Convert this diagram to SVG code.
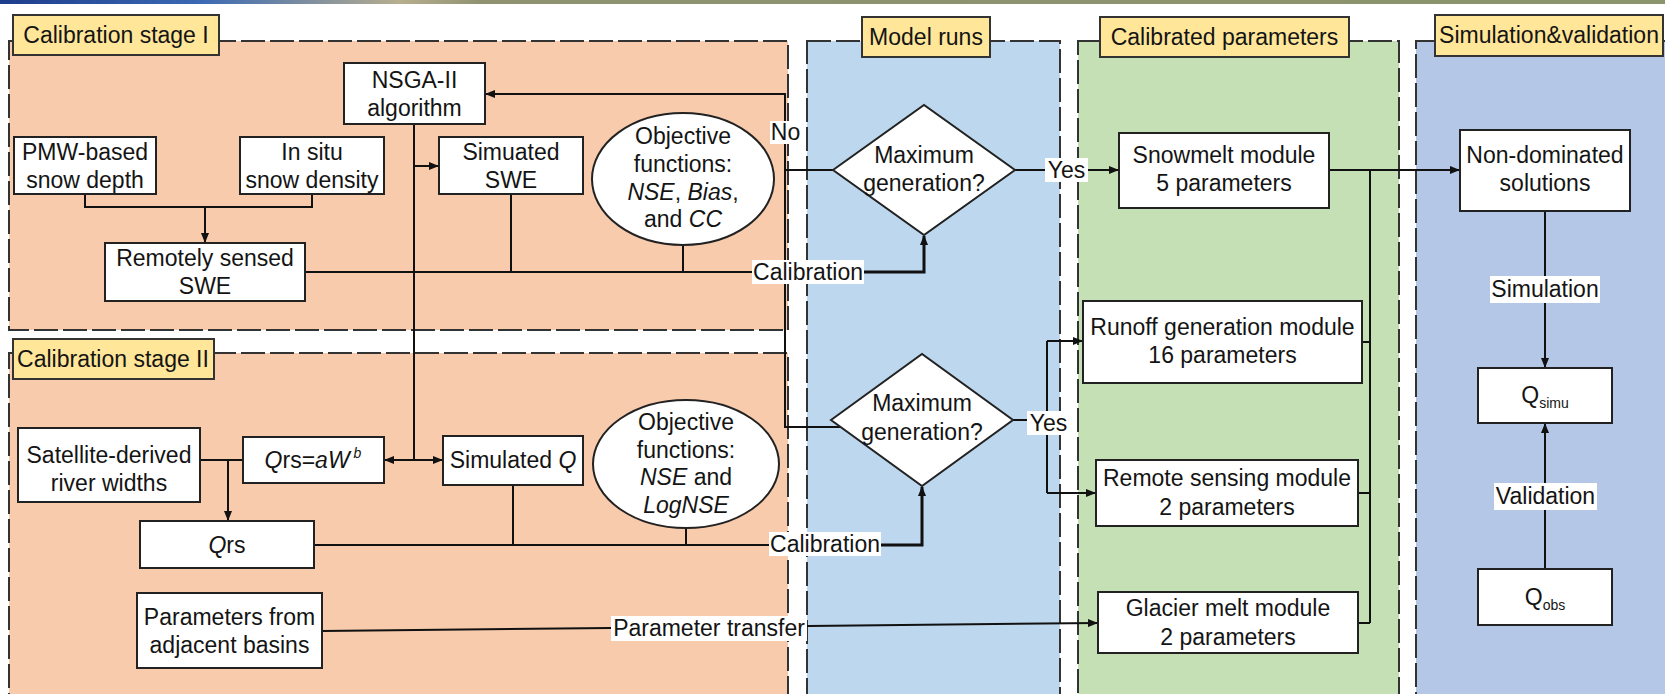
<svg xmlns="http://www.w3.org/2000/svg" width="1665" height="694" viewBox="0 0 1665 694">
<style>
text{font-family:"Liberation Sans",Arial,sans-serif;font-size:23px;fill:#141414;text-anchor:middle}
.it{font-style:italic}
.sub{font-size:14px}
.panel{stroke:#333;stroke-width:2;stroke-dasharray:24 5}
.lab{fill:#FFE699;stroke:#333;stroke-width:2}
.box{fill:#fff;stroke:#222;stroke-width:2}
.ln{fill:none;stroke:#111;stroke-width:2}
.thick{fill:none;stroke:#111;stroke-width:3}
.bg{fill:#fff}
</style>
<defs>
<linearGradient id="band" x1="0" y1="0" x2="1" y2="0">
<stop offset="0" stop-color="#1d3c8c"/>
<stop offset="0.12" stop-color="#3b69b4"/>
<stop offset="0.24" stop-color="#b7ae8e"/>
<stop offset="0.29" stop-color="#8e9270"/>
<stop offset="1" stop-color="#8b946c"/>
</linearGradient>
<marker id="ar" markerUnits="userSpaceOnUse" markerWidth="10" markerHeight="8" refX="9" refY="4" orient="auto">
<path d="M0,0 L10,4 L0,8 z" fill="#111"/>
</marker>
</defs>
<rect x="0" y="0" width="1665" height="694" fill="#fff"/>
<rect x="0" y="0" width="1665" height="4" fill="url(#band)"/>

<g id="panels">
<rect class="panel" x="9" y="41" width="779" height="289" fill="#F8CBAD"/>
<rect class="panel" x="9" y="353" width="779" height="360" fill="#F8CBAD"/>
<rect class="panel" x="807" y="41" width="253" height="672" fill="#BDD7EE"/>
<rect class="panel" x="1078" y="41" width="321" height="672" fill="#C5E0B4"/>
<rect class="panel" x="1416" y="41" width="260" height="672" fill="#B4C7E7"/>
</g>
<g id="panel-labels">
<g id="lab-stage1"><rect class="lab" x="13" y="15" width="206" height="40"/><text x="116" y="43">Calibration stage I</text></g>
<g id="lab-stage2"><rect class="lab" x="13" y="339" width="201" height="40"/><text x="113" y="367">Calibration stage II</text></g>
<g id="lab-model"><rect class="lab" x="862" y="17" width="128" height="40"/><text x="926" y="45">Model runs</text></g>
<g id="lab-calib"><rect class="lab" x="1100" y="17" width="249" height="40"/><text x="1224.5" y="45">Calibrated parameters</text></g>
<g id="lab-sim"><rect class="lab" x="1435" y="15" width="228" height="41"/><text x="1549" y="43">Simulation&amp;validation</text></g>
</g>

<g id="connectors">
<path class="ln" d="M85,194 V207 H312 V194"/>
<path class="ln" d="M205,207 V242" marker-end="url(#ar)"/>
<path class="ln" d="M414,124 V460"/>
<path class="ln" d="M414,166 H438" marker-end="url(#ar)"/>
<path class="ln" d="M414,460 H385" marker-end="url(#ar)"/>
<path class="ln" d="M414,460 H442" marker-end="url(#ar)"/>
<path class="ln" d="M305,272 H760"/>
<path class="ln" d="M511,194 V272"/>
<path class="ln" d="M683,245 V272"/>
<path class="thick" d="M860,272 H924 V236" marker-end="url(#ar)"/>
<path class="ln" d="M833,170 H785 V94 H486" marker-end="url(#ar)"/>
<path class="ln" d="M785,94 V427 H840"/>
<path class="ln" d="M1015,170 H1118" marker-end="url(#ar)"/>
<path class="ln" d="M1329,170 H1459" marker-end="url(#ar)"/>
<path class="ln" d="M1370,170 V623"/>
<path class="ln" d="M1362,342 H1370"/>
<path class="ln" d="M1358,493 H1370"/>
<path class="ln" d="M1358,623 H1370"/>
<path class="ln" d="M1013,420 H1047"/>
<path class="ln" d="M1047,341 V493"/>
<path class="ln" d="M1047,341 H1082" marker-end="url(#ar)"/>
<path class="ln" d="M1047,493 H1095" marker-end="url(#ar)"/>
<path class="ln" d="M314,545 H775"/>
<path class="ln" d="M513,485 V545"/>
<path class="ln" d="M686,528 V545"/>
<path class="thick" d="M875,545 H922 V487" marker-end="url(#ar)"/>
<path class="ln" d="M200,460 H243"/>
<path class="ln" d="M228,460 V520" marker-end="url(#ar)"/>
<path class="ln" d="M322,631 L1097,623" marker-end="url(#ar)"/>
<path class="ln" d="M1545,211 V367" marker-end="url(#ar)"/>
<path class="ln" d="M1545,569 V424" marker-end="url(#ar)"/>
</g>

<g id="n-nsga"><rect class="box" x="344" y="63" width="141" height="61"/><text x="414.5" y="87.5">NSGA-II</text><text x="414.5" y="115.5">algorithm</text></g>
<g id="n-pmw"><rect class="box" x="14" y="137" width="142" height="57"/><text x="85" y="159.5">PMW-based</text><text x="85" y="187.5">snow depth</text></g>
<g id="n-insitu"><rect class="box" x="240" y="137" width="144" height="57"/><text x="312" y="159.5">In situ</text><text x="312" y="187.5">snow density</text></g>
<g id="n-simswe"><rect class="box" x="439" y="137" width="144" height="57"/><text x="511" y="159.5">Simuated</text><text x="511" y="187.5">SWE</text></g>
<g id="n-rsswe"><rect class="box" x="105" y="243" width="200" height="58"/><text x="205" y="266">Remotely sensed</text><text x="205" y="294">SWE</text></g>
<g id="n-obj1"><ellipse class="box" cx="683" cy="179" rx="91" ry="66"/>
<text x="683" y="144">Objective</text><text x="683" y="172">functions:</text>
<text x="683" y="200"><tspan class="it">NSE</tspan>, <tspan class="it">Bias</tspan>,</text>
<text x="683" y="227">and <tspan class="it">CC</tspan></text></g>
<g id="n-max1"><polygon class="box" points="833,170 924,105 1015,170 924,235"/><text x="924" y="163">Maximum</text><text x="924" y="191">generation?</text></g>
<g id="n-max2"><polygon class="box" points="831,420 922,354 1013,420 922,486"/><text x="922" y="411">Maximum</text><text x="922" y="440">generation?</text></g>
<g id="n-snow"><rect class="box" x="1119" y="133" width="210" height="75"/><text x="1224" y="163">Snowmelt module</text><text x="1224" y="191">5 parameters</text></g>
<g id="n-runoff"><rect class="box" x="1083" y="301" width="279" height="82"/><text x="1222.5" y="335">Runoff generation module</text><text x="1222.5" y="363">16 parameters</text></g>
<g id="n-remote"><rect class="box" x="1096" y="460" width="262" height="66"/><text x="1227" y="486">Remote sensing module</text><text x="1227" y="515">2 parameters</text></g>
<g id="n-glacier"><rect class="box" x="1098" y="592" width="260" height="61"/><text x="1228" y="616">Glacier melt module</text><text x="1228" y="645">2 parameters</text></g>
<g id="n-nondom"><rect class="box" x="1460" y="130" width="170" height="81"/><text x="1545" y="163">Non-dominated</text><text x="1545" y="191">solutions</text></g>
<g id="n-qsimu"><rect class="box" x="1478" y="368" width="134" height="55"/><text x="1545" y="403">Q<tspan class="sub" dy="5">simu</tspan></text></g>
<g id="n-qobs"><rect class="box" x="1478" y="569" width="134" height="56"/><text x="1545" y="605">Q<tspan class="sub" dy="5">obs</tspan></text></g>
<g id="n-sat"><rect class="box" x="18" y="428" width="182" height="74"/><text x="109" y="463">Satellite-derived</text><text x="109" y="491">river widths</text></g>
<g id="n-formula"><rect class="box" x="243" y="437" width="141" height="46"/><text x="313" y="468"><tspan class="it">Q</tspan>rs=<tspan class="it">aW</tspan><tspan class="it sub" dx="4" dy="-10">b</tspan></text></g>
<g id="n-simq"><rect class="box" x="443" y="436" width="140" height="49"/><text x="513" y="468">Simulated <tspan class="it">Q</tspan></text></g>
<g id="n-obj2"><ellipse class="box" cx="686" cy="464" rx="93" ry="64"/>
<text x="686" y="430">Objective</text><text x="686" y="458">functions:</text>
<text x="686" y="485"><tspan class="it">NSE</tspan> and</text>
<text x="686" y="513" class="it">LogNSE</text></g>
<g id="n-qrs"><rect class="box" x="140" y="521" width="174" height="47"/><text x="227" y="553"><tspan class="it">Q</tspan>rs</text></g>
<g id="n-params"><rect class="box" x="137" y="593" width="185" height="75"/><text x="229.5" y="625">Parameters from</text><text x="229.5" y="653">adjacent basins</text></g>

<g id="edge-labels">
<rect class="bg" x="770" y="121" width="31" height="23"/><text x="785.5" y="140">No</text>
<rect class="bg" x="752" y="260" width="112" height="24"/><text x="808" y="280">Calibration</text>
<rect class="bg" x="769" y="532" width="112" height="24"/><text x="825" y="552">Calibration</text>
<rect class="bg" x="1045" y="158" width="43" height="24"/><text x="1066.5" y="178">Yes</text>
<rect class="bg" x="1027" y="411" width="43" height="24"/><text x="1048.5" y="431">Yes</text>
<rect class="bg" x="611" y="616" width="196" height="25"/><text x="709" y="636">Parameter transfer</text>
<rect class="bg" x="1490" y="276" width="110" height="27"/><text x="1545" y="297">Simulation</text>
<rect class="bg" x="1494" y="483" width="103" height="27"/><text x="1545.5" y="504">Validation</text>
</g>
</svg>
